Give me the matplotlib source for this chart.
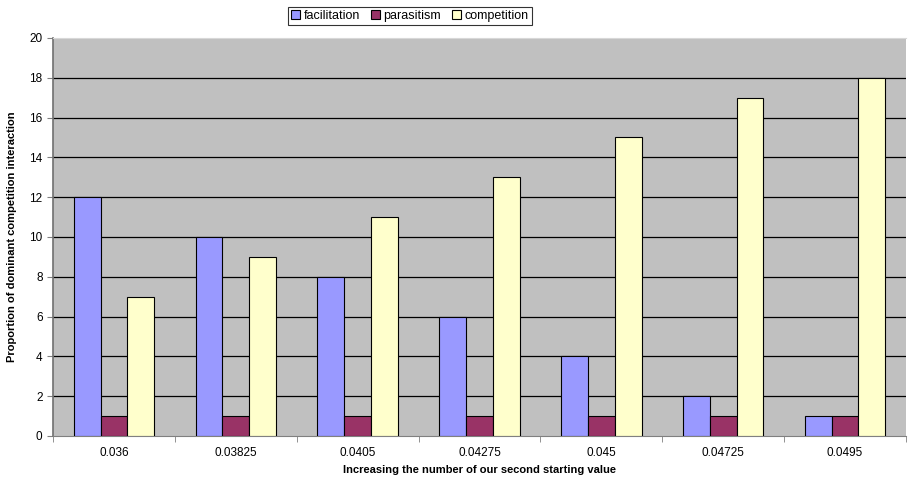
import matplotlib
matplotlib.use("Agg")
import matplotlib.pyplot as plt
import numpy as np

categories = ["0.036", "0.03825", "0.0405", "0.04275", "0.045", "0.04725", "0.0495"]
facilitation = [12, 10, 8, 6, 4, 2, 1]
parasitism = [1, 1, 1, 1, 1, 1, 1]
competition = [7, 9, 11, 13, 15, 17, 18]
series_names = ["facilitation", "parasitism", "competition"]
colors = ["#9999FF", "#993366", "#FFFFCC"]

plt.rcParams['font.family'] = ['Liberation Sans', 'DejaVu Sans']

fig = plt.figure(figsize=(9.09, 4.87), dpi=100)
ax = fig.add_axes([53/909, 1-436/487, (906-53)/909, (436-38)/487])
ax.set_facecolor("#C0C0C0")

x = np.arange(len(categories))
w = 0.22
for i, (vals, name, c) in enumerate(zip([facilitation, parasitism, competition], series_names, colors)):
    ax.bar(x + (i-1)*w, vals, width=w, color=c, edgecolor="black", linewidth=0.8, label=name, zorder=3)

ax.set_xlim(-0.5, len(categories)-0.5)
ax.set_ylim(0, 20)
ax.set_yticks(range(0, 21, 2))
ax.yaxis.grid(True, color="black", linewidth=0.9, zorder=1)
ax.set_axisbelow(True)
gl = ax.get_ygridlines()
gl[0].set_visible(False)
gl[-1].set_visible(False)
ax.set_xticks(x)
ax.set_xticklabels(categories, fontsize=8.5)
ax.set_xticks(np.arange(-0.5, len(categories)), minor=True)
ax.tick_params(axis='x', which='major', length=0, pad=8)
ax.tick_params(axis='x', which='minor', length=4, color="#808080", direction='out')
ax.tick_params(axis='y', labelsize=8.5, length=4, color="#808080", direction='out')
ax.spines["top"].set_color("#D8D8D8")
ax.spines["top"].set_linewidth(0.8)
ax.spines["right"].set_visible(False)
ax.spines["left"].set_color("#707070")
ax.spines["left"].set_linewidth(1.2)
ax.spines["bottom"].set_color("#808080")

ax.set_ylabel("Proportion of dominant competition interaction", fontsize=8, fontweight='bold', labelpad=9)
ax.set_xlabel("Increasing the number of our second starting value", fontsize=8, fontweight='bold', labelpad=4)

leg = fig.legend(loc="upper center", bbox_to_anchor=(410/909, 1-7/487), ncol=3, fontsize=9,
                 frameon=True, fancybox=False, edgecolor="black", handlelength=0.7, handleheight=0.7,
                 handletextpad=0.3, columnspacing=0.9, borderpad=0.25, borderaxespad=0)
leg.get_frame().set_linewidth(0.8)

fig.savefig("out.png", dpi=100)
